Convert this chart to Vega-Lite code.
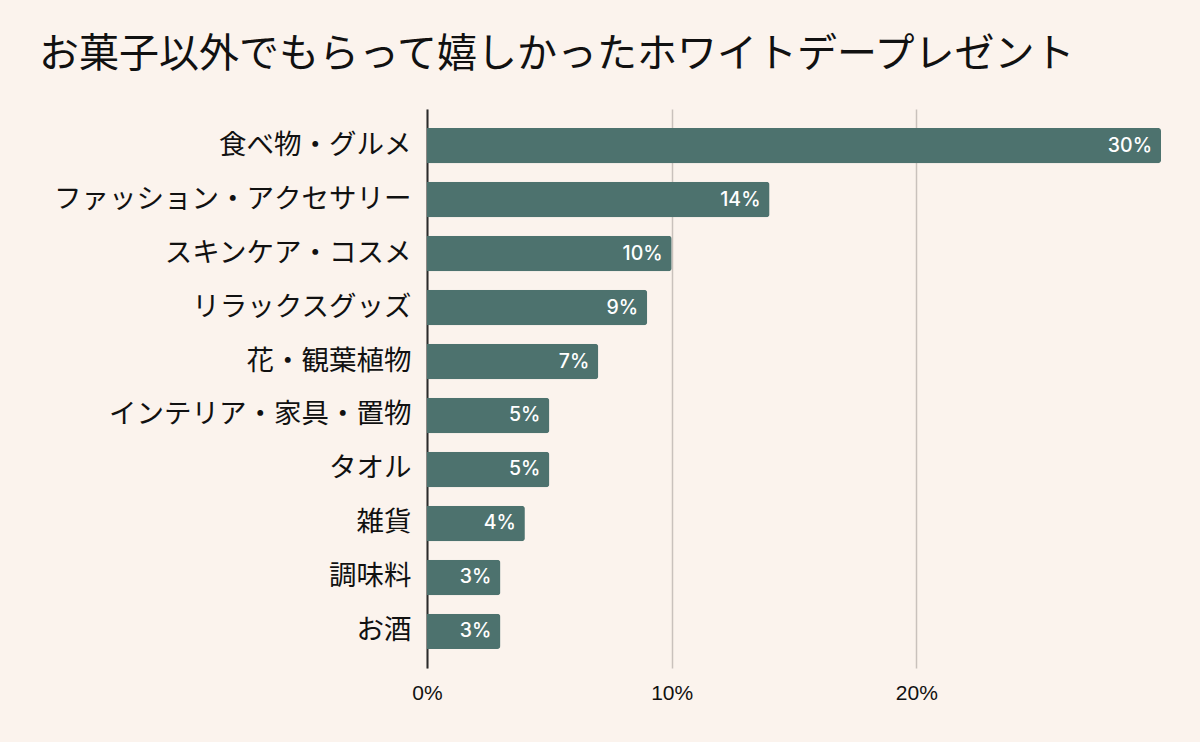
{
  "$schema": "https://vega.github.io/schema/vega-lite/v6.json",
  "width": 734,
  "height": 559,
  "autosize": {"type": "none"},
  "padding": {"left": 427, "top": 109, "right": 39, "bottom": 74},
  "background": "#fbf3ed",
  "title": {
    "text": "お菓子以外でもらって嬉しかったホワイトデープレゼント",
    "font": "Noto Sans CJK JP",
    "fontSize": 40,
    "fontWeight": "normal",
    "color": "#111111",
    "anchor": "start",
    "frame": "group",
    "dx": -388,
    "offset": 34
  },
  "data": {
    "values": [
      {"item": "食べ物・グルメ", "share": 0.30},
      {"item": "ファッション・アクセサリー", "share": 0.14},
      {"item": "スキンケア・コスメ", "share": 0.10},
      {"item": "リラックスグッズ", "share": 0.09},
      {"item": "花・観葉植物", "share": 0.07},
      {"item": "インテリア・家具・置物", "share": 0.05},
      {"item": "タオル", "share": 0.05},
      {"item": "雑貨", "share": 0.04},
      {"item": "調味料", "share": 0.03},
      {"item": "お酒", "share": 0.03}
    ]
  },
  "encoding": {
    "y": {
      "field": "item",
      "type": "nominal",
      "sort": null,
      "scale": {"paddingInner": 0.343, "paddingOuter": 0.35},
      "axis": {
        "title": null,
        "ticks": false,
        "domain": true,
        "domainColor": "#2b2b2b",
        "domainWidth": 2,
        "labelFont": "Noto Sans CJK JP",
        "labelFontSize": 27.5,
        "labelColor": "#111111",
        "labelPadding": 16,
        "labelLimit": 500,
        "grid": false
      }
    },
    "x": {
      "field": "share",
      "type": "quantitative",
      "scale": {"domain": [0, 0.3], "nice": false},
      "axis": {
        "title": null,
        "values": [0, 0.1, 0.2],
        "format": ".0%",
        "domain": false,
        "ticks": false,
        "grid": true,
        "gridColor": "#c9c1bc",
        "gridWidth": 1.5,
        "labelFlush": false,
        "labelFont": "Liberation Sans",
        "labelFontSize": 21,
        "labelColor": "#111111",
        "labelPadding": 14
      }
    }
  },
  "layer": [
    {
      "mark": {"type": "bar", "color": "#4d726e", "cornerRadiusEnd": 3}
    },
    {
      "mark": {
        "type": "text",
        "align": "right",
        "dx": -9,
        "color": "#ffffff",
        "font": "Inter",
        "fontSize": 19.5,
        "fontWeight": 500
      },
      "encoding": {
        "text": {"field": "share", "type": "quantitative", "format": ".0%"}
      }
    }
  ],
  "config": {"view": {"stroke": null}}
}
